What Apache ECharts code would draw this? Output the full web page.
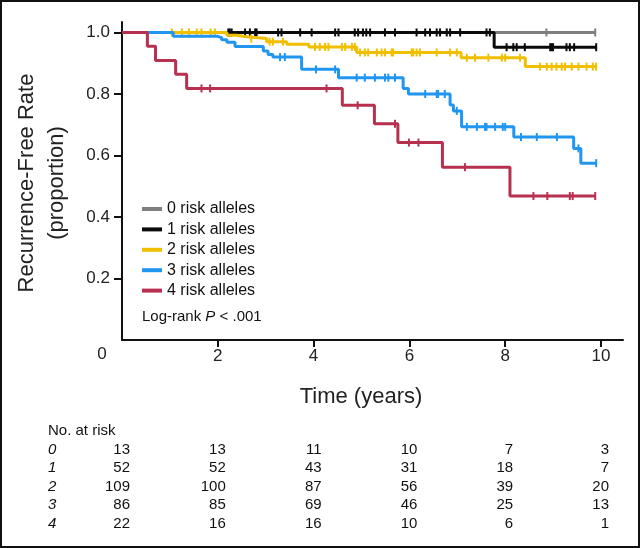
<!DOCTYPE html>
<html><head><meta charset="utf-8">
<script src="https://cdn.jsdelivr.net/npm/echarts@6/dist/echarts.min.js"></script>
<style>html,body{margin:0;padding:0;background:#fff}#c{width:640px;height:548px}</style>
</head><body><div id="c"></div>
<script>
// ---- data ----
const groupNames = ['0 risk alleles', '1 risk alleles', '2 risk alleles', '3 risk alleles', '4 risk alleles'];
const groupColors = ['#7f7f7f', '#0a0a0a', '#f0c000', '#2196f0', '#b8304f'];
const xTicks = [2, 4, 6, 8, 10];
const yTicks = [0.2, 0.4, 0.6, 0.8, 1.0];

const g0Time = [0, 9.88];
const g0Surv = [1, 1];
const g0Cens = [8.86, 9.88];

const g1Time = [0, 7.77, 9.90];
const g1Surv = [1, 0.952, 0.952];
const g1Cens = [2.22, 2.25, 2.29, 2.57, 2.67, 2.78, 2.81, 3.26, 3.33, 3.72, 3.96, 4.45, 4.52, 4.86, 4.93, 5.03, 5.10, 5.18,
  5.49, 5.70, 6.15, 6.33, 6.43, 6.57, 6.64, 6.78, 6.85, 7.06, 7.61, 7.68, 8.03, 8.17, 8.24, 8.41, 8.94, 8.97, 9.00, 9.28, 9.35, 9.44, 9.90];

const g2Time = [0, 2.19, 2.39, 2.60, 3.02, 3.44, 3.90, 4.90, 7.08, 8.42, 9.90];
const g2Surv = [1, 0.991, 0.986, 0.980, 0.970, 0.962, 0.953, 0.935, 0.918, 0.889, 0.889];
const g2Cens = [1.04, 1.25, 1.40, 1.56, 1.66, 1.85, 1.94, 2.70, 3.08, 3.15, 3.36, 4.03, 4.13, 4.24, 4.31, 4.59, 4.66, 4.80, 4.86,
  4.97, 5.07, 5.14, 5.32, 5.42, 5.49, 5.63, 5.66, 6.05, 6.08, 6.15, 6.22, 6.57, 6.85, 6.99, 7.20, 7.37, 7.65, 7.93, 8.00, 8.31,
  8.73, 8.87, 8.97, 9.07, 9.18, 9.25, 9.39, 9.53, 9.70, 9.83, 9.90];

const g3Time = [0, 1.07, 1.98, 2.08, 2.19, 2.36, 2.95, 3.05, 3.15, 3.75, 4.52, 5.87, 5.98, 6.85, 6.92, 7.09, 8.18, 9.43, 9.58, 9.90];
const g3Surv = [1, 0.988, 0.983, 0.976, 0.968, 0.954, 0.940, 0.928, 0.920, 0.880, 0.853, 0.818, 0.800, 0.764, 0.745, 0.693, 0.660, 0.623, 0.575, 0.575];
const g3Cens = [3.30, 3.40, 4.05, 4.45, 4.90, 5.07, 5.28, 5.49, 5.56, 5.70, 6.33, 6.57, 6.60, 6.74, 6.99, 7.20, 7.41, 7.58, 7.61,
  7.79, 7.95, 8.00, 8.33, 8.66, 9.08, 9.53, 9.90];

const g4Time = [0, 0.53, 0.70, 1.12, 1.35, 4.60, 5.27, 5.76, 6.69, 8.10, 9.88];
const g4Surv = [1, 0.955, 0.909, 0.864, 0.818, 0.763, 0.703, 0.642, 0.562, 0.468, 0.468];
const g4Cens = [1.66, 1.84, 4.27, 4.92, 5.70, 5.99, 6.19, 7.16, 8.59, 8.88, 9.35, 9.41, 9.88];

const riskTimes = [0, 2, 4, 6, 8, 10];
const riskRowLabels = ['0', '1', '2', '3', '4'];
const risk0 = [13, 13, 11, 10, 7, 3];
const risk1 = [52, 52, 43, 31, 18, 7];
const risk2 = [109, 100, 87, 56, 39, 20];
const risk3 = [86, 85, 69, 46, 25, 13];
const risk4 = [22, 16, 16, 10, 6, 1];

// ---- build ----
const groups = [
  [g0Time, g0Surv, g0Cens], [g1Time, g1Surv, g1Cens], [g2Time, g2Surv, g2Cens],
  [g3Time, g3Surv, g3Cens], [g4Time, g4Surv, g4Cens]
];
const riskRows = [risk0, risk1, risk2, risk3, risk4];
function survAt(times, surv, t) {
  let v = surv[0];
  for (let i = 0; i < times.length; i++) { if (times[i] <= t) v = surv[i]; }
  return v;
}
const FONT = 'Liberation Sans, Arial, sans-serif';
const series = [];
groups.forEach((g, k) => {
  series.push({
    name: groupNames[k], type: 'line', step: 'end', showSymbol: false, symbol: 'none',
    data: g[0].map((t, i) => [t, g[1][i]]),
    lineStyle: { color: groupColors[k], width: 3 }, itemStyle: { color: groupColors[k] },
    z: 2 + k * 2, silent: true
  });
  series.push({
    name: groupNames[k] + ' censored', type: 'scatter', symbol: 'rect', symbolSize: [2, 8],
    data: g[2].map(t => [t, survAt(g[0], g[1], t)]),
    itemStyle: { color: groupColors[k], opacity: 1 }, z: 3 + k * 2, silent: true
  });
});

const chart = echarts.init(document.getElementById('c'), null, { renderer: 'canvas' });
const axisCol = '#111';
chart.setOption({
  animation: false,
  backgroundColor: '#fff',
  grid: { left: 122, right: 17, top: 22, bottom: 208, containLabel: false },
  xAxis: {
    type: 'value', min: 0, max: 10.46, interval: 2,
    axisLine: { lineStyle: { color: axisCol, width: 2 } },
    axisTick: { customValues: xTicks, length: 7, lineStyle: { color: axisCol, width: 2 } },
    axisLabel: { customValues: xTicks, fontSize: 17, color: '#222', margin: 8, fontFamily: FONT },
    splitLine: { show: false }
  },
  yAxis: {
    type: 'value', min: 0, max: 1.034, interval: 0.2,
    axisLine: { lineStyle: { color: axisCol, width: 2 } },
    axisTick: { customValues: yTicks, length: 8, lineStyle: { color: axisCol, width: 2 } },
    axisLabel: { customValues: yTicks, fontSize: 17, color: '#222', margin: 12, fontFamily: FONT, formatter: v => v.toFixed(1) },
    splitLine: { show: false }
  },
  legend: {
    data: groupNames, orient: 'vertical', left: 142, top: 201, icon: 'rect',
    itemWidth: 20, itemHeight: 4, itemGap: 4.4, selectedMode: false,
    textStyle: { fontSize: 16, color: '#111', fontFamily: FONT, lineHeight: 16, padding: [0, 0, 0, 0] },
    padding: 0
  },
  series: series
});

const px = t => chart.convertToPixel({ xAxisIndex: 0 }, t);
const gfx = [];
gfx.push({ type: 'rect', shape: { x: 1, y: 1, width: 638, height: 546 }, style: { fill: 'none', stroke: '#111', lineWidth: 2 }, z: 100 });
gfx.push({ type: 'text', x: 102, y: 354, style: { text: '0', font: '17px ' + FONT, fill: '#222', align: 'center', verticalAlign: 'middle' } });
gfx.push({ type: 'text', x: 42, y: 183, rotation: Math.PI / 2,
  style: { text: 'Recurrence-Free Rate\n(proportion)', font: '22px ' + FONT, fill: '#222', align: 'center', verticalAlign: 'middle', lineHeight: 30 } });
gfx.push({ type: 'text', x: 361, y: 397, style: { text: 'Time (years)', font: '22px ' + FONT, fill: '#222', align: 'center', verticalAlign: 'middle' } });
gfx.push({ type: 'text', x: 142, y: 317, style: {
  text: '{a|Log-rank }{b|P}{a| < .001}', verticalAlign: 'middle',
  rich: { a: { font: '15px ' + FONT, fill: '#111' }, b: { font: 'italic 15px ' + FONT, fill: '#111' } } } });
gfx.push({ type: 'text', x: 48, y: 431, style: { text: 'No. at risk', font: '15px ' + FONT, fill: '#111', verticalAlign: 'middle' } });
const rowY = [449.5, 468, 486.5, 505, 523.5];
riskRows.forEach((row, r) => {
  gfx.push({ type: 'text', x: 48, y: rowY[r], style: { text: riskRowLabels[r], font: 'italic 15px ' + FONT, fill: '#111', verticalAlign: 'middle' } });
  row.forEach((v, c) => {
    gfx.push({ type: 'text', x: px(riskTimes[c]) + 8, y: rowY[r], style: { text: String(v), font: '15px ' + FONT, fill: '#111', align: 'right', verticalAlign: 'middle' } });
  });
});
chart.setOption({ graphic: gfx });
</script>
</body></html>
